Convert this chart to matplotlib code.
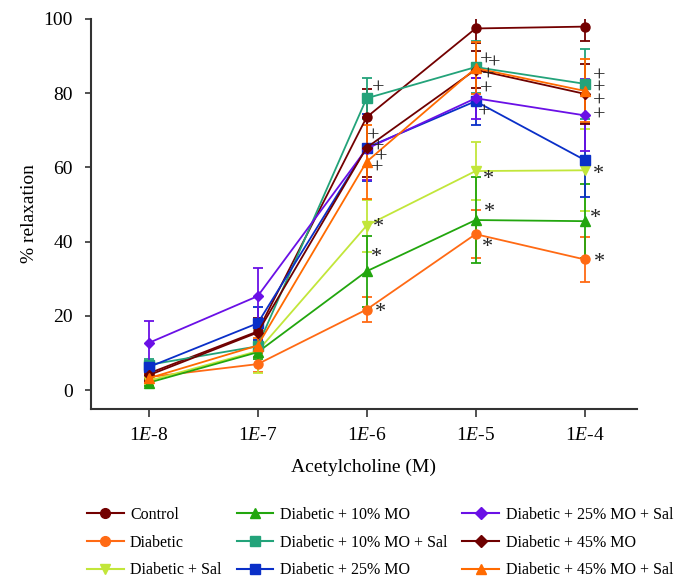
import matplotlib
matplotlib.use("Agg")
import matplotlib.pyplot as plt
from matplotlib.lines import Line2D
import numpy as np

plt.rcParams['font.family'] = ['Liberation Serif', 'DejaVu Serif']
plt.rcParams['mathtext.fontset'] = 'custom'
plt.rcParams['mathtext.rm'] = 'Liberation Serif'
plt.rcParams['mathtext.it'] = 'Liberation Serif:italic'

# doses (log10 M)
doses = ["1$\\mathit{E}$-8", "1$\\mathit{E}$-7", "1$\\mathit{E}$-6", "1$\\mathit{E}$-5", "1$\\mathit{E}$-4"]

labels = ["Control", "Diabetic", "Diabetic + Sal",
          "Diabetic + 10% MO", "Diabetic + 10% MO + Sal", "Diabetic + 25% MO",
          "Diabetic + 25% MO + Sal", "Diabetic + 45% MO", "Diabetic + 45% MO + Sal"]

control      = [4.5, 15.8, 73.5, 97.4, 97.9]
diabetic     = [3.5, 7.0, 21.7, 42.0, 35.2]
diab_sal     = [2.5, 10.5, 44.3, 59.0, 59.2]
mo10         = [2.0, 10.2, 32.0, 45.8, 45.5]
mo10_sal     = [6.8, 11.8, 78.6, 87.0, 82.5]
mo25         = [6.2, 18.0, 65.3, 77.8, 62.0]
mo25_sal     = [12.7, 25.3, 65.0, 78.6, 74.0]
mo45         = [4.0, 15.5, 65.3, 86.3, 79.8]
mo45_sal     = [3.2, 12.0, 61.5, 86.7, 80.6]

control_err  = [1.5, 3.5, 7.5, 3.8, 4.0]
diabetic_err = [1.2, 2.0, 3.4, 6.5, 6.0]
diab_sal_err = [1.2, 6.0, 7.0, 7.8, 11.0]
mo10_err     = [1.0, 1.8, 9.5, 11.5, 10.0]
mo10_sal_err = [1.5, 1.8, 5.5, 7.0, 9.5]
mo25_err     = [1.5, 4.5, 9.0, 6.3, 10.0]
mo25_sal_err = [5.8, 7.5, 8.5, 5.5, 9.7]
mo45_err     = [1.5, 3.0, 8.0, 5.0, 8.0]
mo45_sal_err = [1.2, 2.0, 10.0, 7.0, 8.5]

series = [control, diabetic, diab_sal, mo10, mo10_sal, mo25, mo25_sal, mo45, mo45_sal]
errors = [control_err, diabetic_err, diab_sal_err, mo10_err, mo10_sal_err,
          mo25_err, mo25_sal_err, mo45_err, mo45_sal_err]
colors = ["#730000", "#ff6a14", "#c2e63a", "#22a60e", "#23a37a", "#0a2fc8",
          "#6a10e6", "#6e0000", "#ff6a00"]
markers = ["o", "o", "v", "^", "s", "s", "D", "D", "^"]

# significance symbols: dose index, y value, symbol
sym_x = [2, 2, 2, 2, 2, 3, 3, 3, 3, 3, 4, 4, 4, 4,
         2, 2, 2, 3, 3, 3, 4, 4, 4]
sym_y = [81.0, 68.2, 65.2, 62.5, 59.5, 88.7, 84.6, 80.9, 74.6, 87.9, 84.3, 81.1, 77.6, 73.9,
         43.9, 35.6, 20.8, 56.6, 47.7, 38.3, 58.2, 46.1, 34.5]
sym_dx = [12, 7, 12, 15, 11, 11, 13, 11, 9, 19, 15, 15, 15, 15,
          12, 10, 14, 13, 14, 12, 14, 11, 15]
sym_t = ["+"] * 14 + ["*"] * 9

fig = plt.figure(figsize=(6.84, 5.88), dpi=100)
ax = fig.add_axes([0.133, 0.305, 0.798, 0.663])

x = np.arange(len(doses))
for ys, es, c, m, lab in zip(series, errors, colors, markers, labels):
    ax.errorbar(x, ys, yerr=es, color=c, marker=m, markersize=6.5 if m != "D" else 5.5,
                linewidth=1.3, elinewidth=1.3, capsize=3.8, capthick=1.3, label=lab)

for xi, yi, dx, t in zip(sym_x, sym_y, sym_dx, sym_t):
    ax.annotate(t, (xi, yi), xytext=(dx, 0), textcoords="offset pixels",
                ha="center", va="center", fontsize=16,
                color="#222222")

ax.set_xlim(-0.53, 4.48)
ax.set_ylim(-5, 100)
ax.set_xticks(x)
ax.set_xticklabels(doses)
ax.set_yticks([0, 20, 40, 60, 80, 100])
ax.tick_params(labelsize=14, width=1.2, color="#333333")
ax.tick_params(axis="x", length=6, pad=7)
ax.tick_params(axis="y", length=4, pad=9)
ax.spines["top"].set_visible(False)
ax.spines["right"].set_visible(False)
for s in ["left", "bottom"]:
    ax.spines[s].set_linewidth(1.5)
    ax.spines[s].set_color("#333333")
ax.set_xlabel("Acetylcholine (M)", fontsize=14, labelpad=11)
ax.set_ylabel("% relaxation", fontsize=14, labelpad=4)

handles = [Line2D([], [], color=c, marker=m, markersize=7 if m != "D" else 6, linewidth=1.5)
           for c, m in zip(colors, markers)]
fig.legend(handles=handles, labels=labels, ncol=3, loc="upper left",
           bbox_to_anchor=(0.127, 0.138), frameon=False, fontsize=11.5,
           handlelength=2.3, columnspacing=0.95, handletextpad=0.4, labelspacing=0.73,
           borderaxespad=0, borderpad=0)

fig.savefig("out.png", dpi=100)
